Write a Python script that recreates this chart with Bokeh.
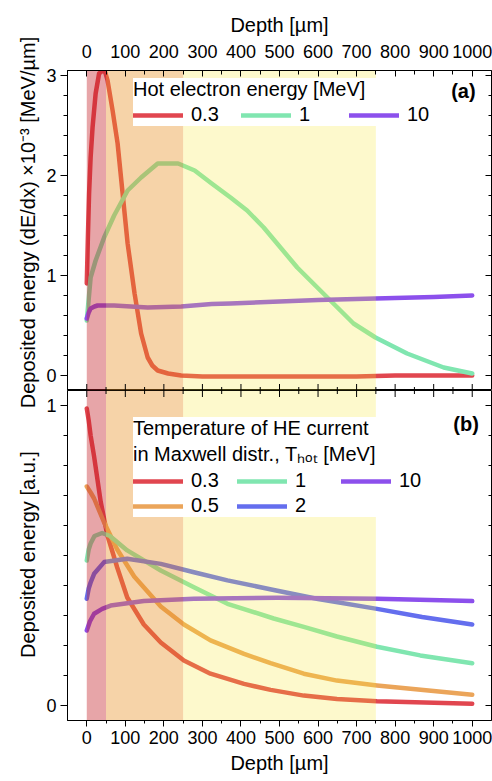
import math
from bokeh.plotting import figure
from bokeh.models import (FixedTicker, BoxAnnotation, Legend,
                          LegendItem, Label, Range1d)
from bokeh.layouts import column, row
from bokeh.embed import file_html
from bokeh.resources import INLINE

FONT = "Liberation Sans"

# ---------------- data ----------------
depth_major = [0, 100, 200, 300, 400, 500, 600, 700, 800, 900, 1000]
depth_minor = [50, 150, 250, 350, 450, 550, 650, 750, 850, 950]
a_major = [0, 1, 2, 3]
a_minor = [0.2, 0.4, 0.6, 0.8, 1.2, 1.4, 1.6, 1.8, 2.2, 2.4, 2.6, 2.8]
b_major = [0, 1]
b_minor = [0.1, 0.2, 0.3, 0.4, 0.5, 0.6, 0.7, 0.8, 0.9]

band_left = [0, 50, 250]
band_right = [50, 250, 750]
band_colors = ["#c31e25", "#e89125", "#f7e733"]
band_alpha = [0.4, 0.4, 0.25]

# panel (a): hot electron energy [MeV]
a_title = "Hot electron energy [MeV]"
a_ylabel = "Deposited energy (dE/dx) ×10⁻³ [MeV/µm]"
a_labels = ["0.3", "1", "10"]
a_colors = ["#e1464f", "#80e6b0", "#8c50ec"]
a_x_03 = [0, 3, 6, 10, 15, 23, 32, 41, 48, 54, 67, 80, 93, 106, 124, 141, 158,
          170, 184, 211, 245, 300, 400, 500, 600, 700, 800, 900, 1000]
a_y_03 = [0.92, 1.4, 1.82, 2.18, 2.48, 2.82, 3.02, 3.05, 3.03, 2.95, 2.65, 2.32,
          1.82, 1.32, 0.82, 0.42, 0.18, 0.1, 0.05, 0.02, 0.0, -0.01, -0.01,
          -0.01, -0.01, -0.01, 0.0, 0.0, 0.0]
a_x_1 = [0, 10, 23, 45, 71, 106, 141, 184, 237, 280, 324, 373, 416, 459, 546,
         632, 692, 749, 831, 926, 1000]
a_y_1 = [0.55, 0.98, 1.15, 1.38, 1.6, 1.85, 1.98, 2.12, 2.12, 2.05, 1.92, 1.78,
         1.65, 1.48, 1.08, 0.75, 0.52, 0.38, 0.22, 0.08, 0.02]
a_x_10 = [0, 5, 10, 20, 28, 71, 158, 245, 324, 373, 500, 600, 749, 900, 1000]
a_y_10 = [0.57, 0.63, 0.67, 0.69, 0.70, 0.70, 0.68, 0.69, 0.715, 0.72, 0.74,
          0.755, 0.77, 0.785, 0.80]

# panel (b): T_hot of Maxwell distribution [MeV]
b_title = "Temperature of HE current\nin Maxwell distr., Tₕₒₜ [MeV]"
b_ylabel = "Deposited energy [a.u.]"
b_labels = ["0.3", "0.5", "1", "2", "10"]
b_colors = ["#e1464f", "#eba55a", "#80e6b0", "#646eee", "#8c50ec"]
b_x_03 = [0, 5, 10, 19, 36, 53, 79, 105, 148, 192, 252, 321, 408, 477, 563,
          649, 753, 1000]
b_y_03 = [0.99, 0.95, 0.9, 0.83, 0.68, 0.57, 0.46, 0.36, 0.27, 0.21, 0.15,
          0.106, 0.072, 0.052, 0.033, 0.022, 0.014, 0.006]
b_x_05 = [0, 5, 10, 19, 45, 79, 123, 192, 252, 321, 408, 477, 563, 649, 753,
          1000]
b_y_05 = [0.73, 0.72, 0.71, 0.69, 0.61, 0.52, 0.43, 0.33, 0.27, 0.217, 0.172,
          0.141, 0.106, 0.083, 0.067, 0.036]
b_x_1 = [0, 5, 10, 20, 40, 60, 105, 192, 278, 365, 485, 563, 649, 753, 865,
         1000]
b_y_1 = [0.483, 0.52, 0.54, 0.565, 0.575, 0.565, 0.517, 0.45, 0.394, 0.339,
         0.29, 0.262, 0.23, 0.196, 0.167, 0.141]
b_x_2 = [0, 5, 10, 19, 45, 105, 192, 278, 365, 485, 600, 753, 870, 1000]
b_y_2 = [0.356, 0.39, 0.41, 0.439, 0.478, 0.489, 0.472, 0.444, 0.417, 0.385,
         0.355, 0.322, 0.295, 0.27]
b_x_10 = [0, 8, 19, 40, 62, 148, 278, 494, 753, 1000]
b_y_10 = [0.25, 0.28, 0.306, 0.322, 0.333, 0.348, 0.356, 0.359, 0.356, 0.348]

a_series = [(a_x_03, a_y_03), (a_x_1, a_y_1), (a_x_10, a_y_10)]
b_series = [(b_x_03, b_y_03), (b_x_05, b_y_05), (b_x_1, b_y_1),
            (b_x_2, b_y_2), (b_x_10, b_y_10)]

X_RANGE = (-50, 1050)
A_RANGE = (-0.15, 3.05)
B_RANGE = (-0.05, 1.05)

STRIP_W = 42
TOTAL_W = 492
TOTAL_H = 781


# ---------------- helpers ----------------
def style_fig(p):
    p.xgrid.visible = False
    p.ygrid.visible = False
    p.outline_line_color = "black"
    p.outline_line_width = 1
    p.background_fill_color = "white"
    p.border_fill_color = "white"


def style_axis(ax, tick_in, tick_out, minor_in, minor_out):
    ax.axis_line_color = "black"
    ax.major_tick_line_color = "black"
    ax.minor_tick_line_color = "black"
    ax.major_tick_in = tick_in
    ax.major_tick_out = tick_out
    ax.minor_tick_in = minor_in
    ax.minor_tick_out = minor_out
    ax.major_label_text_font = FONT
    ax.major_label_text_font_size = "18px"
    ax.major_label_text_color = "black"
    ax.axis_label_text_font = FONT
    ax.axis_label_text_font_style = "normal"
    ax.axis_label_text_font_size = "20px"
    ax.axis_label_text_color = "black"


def add_bands(p):
    for l, r, c, a in zip(band_left, band_right, band_colors, band_alpha):
        p.add_layout(BoxAnnotation(left=l, right=r, fill_color=c, fill_alpha=a,
                                   line_color=None, level="glyph"))


def add_inner_ticks(p, xs, ys, angle, size):
    p.scatter(xs, ys, marker="dash", angle=angle, size=size,
              line_color="black", line_width=1, level="overlay")


def make_legend(items, title, loc, orientation, nrows="auto",
                label_width=49, spacing=1):
    leg = Legend(items=items, location=loc, orientation=orientation,
                 title=title, nrows=nrows)
    leg.title_text_font = FONT
    leg.title_text_font_size = "20px"
    leg.title_text_font_style = "normal"
    leg.title_text_color = "black"
    leg.title_standoff = 2
    leg.label_text_font = FONT
    leg.label_text_font_size = "20px"
    leg.label_text_color = "black"
    leg.glyph_width = 50
    leg.glyph_height = 20
    leg.label_height = 20
    leg.label_width = label_width
    leg.label_standoff = 8
    leg.spacing = spacing
    leg.padding = 4
    leg.margin = 0
    leg.border_line_color = None
    leg.background_fill_color = "white"
    leg.background_fill_alpha = 1.0
    return leg


# ---------------- panel (a) ----------------
pa = figure(width=TOTAL_W - STRIP_W, height=390, x_range=Range1d(*X_RANGE),
            y_range=Range1d(*A_RANGE), output_backend="svg",
            toolbar_location=None, x_axis_location="above",
            min_border_left=67 - STRIP_W, min_border_right=1, min_border_top=70,
            min_border_bottom=0)
style_fig(pa)
add_bands(pa)

top_ax = pa.xaxis[0]
top_ax.ticker = FixedTicker(ticks=depth_major, minor_ticks=depth_minor)
style_axis(top_ax, 6, 0, 4, 0)
top_ax.axis_label = "Depth [µm]"
top_ax.major_label_standoff = 13
top_ax.axis_label_standoff = 6

left_a = pa.yaxis[0]
left_a.ticker = FixedTicker(ticks=a_major, minor_ticks=a_minor)
style_axis(left_a, 0, 7, 0, 4)
left_a.major_label_standoff = 4

a_items = []
for (xs, ys), lab, col in zip(a_series, a_labels, a_colors):
    r = pa.line(xs, ys, line_color=col, line_width=4.5, line_join="round",
                line_cap="round", level="underlay")
    a_items.append(LegendItem(label=lab, renderers=[r]))

# inward ticks on the shared middle line and on the right frame edge
add_inner_ticks(pa, depth_major, [A_RANGE[0]] * len(depth_major), math.pi / 2, 13)
add_inner_ticks(pa, depth_minor, [A_RANGE[0]] * len(depth_minor), math.pi / 2, 7)
add_inner_ticks(pa, [X_RANGE[1]] * len(a_major), a_major, 0, 12)
add_inner_ticks(pa, [X_RANGE[1]] * len(a_minor), a_minor, 0, 6)

leg_a = make_legend(a_items, a_title, (66, 264), "horizontal",
                    label_width=36, spacing=14)
pa.add_layout(leg_a)
pa.add_layout(Label(x=977, y=2.85, text="(a)", text_font=FONT, text_font_size="20px",
                    text_font_style="bold", text_align="center",
                    text_baseline="middle", text_color="black", level="overlay"))

# ---------------- panel (b) ----------------
pb = figure(width=TOTAL_W - STRIP_W, height=TOTAL_H - 390, x_range=Range1d(*X_RANGE),
            y_range=Range1d(*B_RANGE), output_backend="svg",
            toolbar_location=None, x_axis_location="below",
            min_border_left=67 - STRIP_W, min_border_right=1, min_border_top=0,
            min_border_bottom=61)
style_fig(pb)
add_bands(pb)

bot_ax = pb.xaxis[0]
bot_ax.ticker = FixedTicker(ticks=depth_major, minor_ticks=depth_minor)
style_axis(bot_ax, 0, 6, 0, 3)
bot_ax.axis_label = "Depth [µm]"
bot_ax.major_label_standoff = 4
bot_ax.axis_label_standoff = 5

left_b = pb.yaxis[0]
left_b.ticker = FixedTicker(ticks=b_major, minor_ticks=b_minor)
style_axis(left_b, 0, 7, 0, 4)
left_b.major_label_standoff = 4

b_items = []
for (xs, ys), lab, col in zip(b_series, b_labels, b_colors):
    r = pb.line(xs, ys, line_color=col, line_width=4.5, line_join="round",
                line_cap="round", level="underlay")
    b_items.append(LegendItem(label=lab, renderers=[r]))

add_inner_ticks(pb, depth_major, [B_RANGE[1]] * len(depth_major), math.pi / 2, 13)
add_inner_ticks(pb, depth_minor, [B_RANGE[1]] * len(depth_minor), math.pi / 2, 7)
add_inner_ticks(pb, [X_RANGE[1]] * len(b_major), b_major, 0, 12)
add_inner_ticks(pb, [X_RANGE[1]] * len(b_minor), b_minor, 0, 6)

leg_b = make_legend(b_items, b_title, (66, 203), "vertical", nrows=2,
                    label_width=44, spacing=2)
pb.add_layout(leg_b)
pb.add_layout(Label(x=984, y=0.94, text="(b)", text_font=FONT, text_font_size="20px",
                    text_font_style="bold", text_align="center",
                    text_baseline="middle", text_color="black", level="overlay"))

# ---------------- left strip with the two y-axis titles ----------------
strip = figure(width=STRIP_W, height=TOTAL_H, x_range=Range1d(0, STRIP_W),
               y_range=Range1d(TOTAL_H, 0), output_backend="svg",
               toolbar_location=None, x_axis_location=None, y_axis_location=None,
               min_border=0)
strip.outline_line_color = None
strip.background_fill_color = "white"
strip.border_fill_color = "white"
strip.grid.visible = False
strip.add_layout(Label(x=27, y=222, text=a_ylabel, angle=math.pi / 2,
                       text_font=FONT, text_font_size="20px", text_align="center",
                       text_baseline="middle", text_color="black"))
strip.add_layout(Label(x=27, y=554, text=b_ylabel, angle=math.pi / 2,
                       text_font=FONT, text_font_size="20px", text_align="center",
                       text_baseline="middle", text_color="black"))

layout = row(strip, column(pa, pb, spacing=0), spacing=0)
open("out.html", "w").write(file_html(layout, INLINE))
